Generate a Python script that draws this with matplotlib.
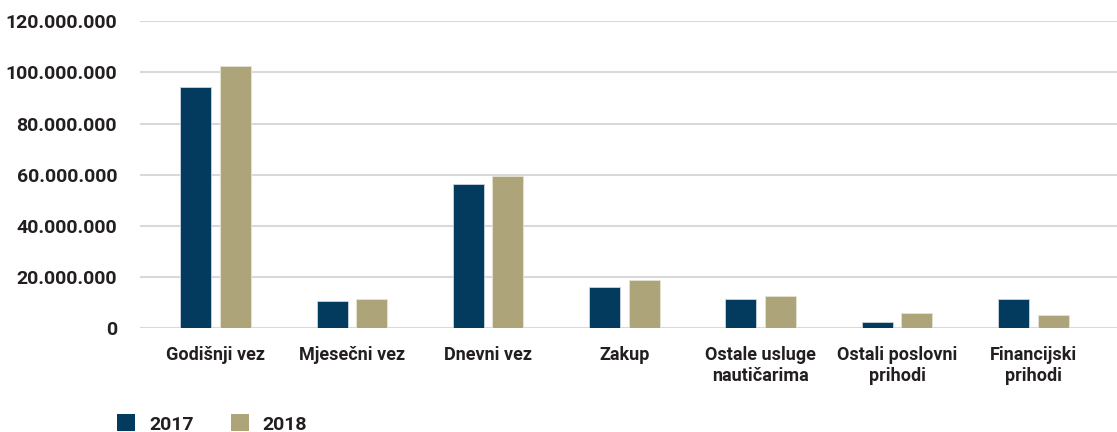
import matplotlib
matplotlib.use("Agg")
import matplotlib.pyplot as plt
import numpy as np
from matplotlib.ticker import FuncFormatter
from matplotlib.patches import Patch

categories = ["Godišnji vez", "Mjesečni vez", "Dnevni vez", "Zakup",
              "Ostale usluge\nnautičarima", "Ostali poslovni\nprihodi", "Financijski\nprihodi"]
values_2017 = [94.2e6, 10.6e6, 56.2e6, 16.0e6, 11.2e6, 2.2e6, 11.2e6]
values_2018 = [102.4e6, 11.2e6, 59.6e6, 18.8e6, 12.7e6, 5.8e6, 5.1e6]
series_labels = ["2017", "2018"]
yticks = [0, 20e6, 40e6, 60e6, 80e6, 100e6, 120e6]

c2017 = "#033B5E"
c2018 = "#AEA479"
txt = "#231F20"

plt.rcParams['font.family'] = ['Roboto', 'DejaVu Sans']

fig = plt.figure(figsize=(11.17, 4.32), dpi=100)
ax = fig.add_axes([140/1117, (432-328)/432, 1 - 140/1117, (328-21.3)/432])

x = np.arange(len(categories))
w = 0.227
off = 0.145
ax.bar(x - off, values_2017, w, color=c2017, edgecolor="#c9d6e0", linewidth=0.6, zorder=3)
ax.bar(x + off, values_2018, w, color=c2018, edgecolor="#e6e2d2", linewidth=0.6, zorder=3)

ax.set_ylim(0, 120e6)
ax.set_xlim(-0.554, 6.614)
ax.set_yticks(yticks)
ax.yaxis.set_major_formatter(FuncFormatter(lambda v, p: f"{int(v):,}".replace(",", ".")))
ax.set_xticks(x)
ax.set_xticklabels(categories, fontsize=13, fontweight="bold", color=txt, linespacing=1.2)
ax.tick_params(axis="y", length=0, pad=16.5, labelsize=14, labelcolor=txt)
ax.tick_params(axis="x", length=0, pad=13)
for lab in ax.get_yticklabels():
    lab.set_fontweight("bold")
ax.grid(axis="y", color="#d9d9d9", linewidth=1.5, zorder=0)
for s in ax.spines.values():
    s.set_visible(False)

handles = [Patch(facecolor=c2017), Patch(facecolor=c2018)]
leg = fig.legend(handles, series_labels, loc="center left",
                 bbox_to_anchor=(117/1117, (432-424)/432), ncol=2, frameon=False,
                 prop={"weight": "bold", "size": 14}, handlelength=0.95, handleheight=0.95,
                 handletextpad=0.7, columnspacing=1.9, borderpad=0, borderaxespad=0)
for t in leg.get_texts():
    t.set_color(txt)

fig.savefig("out.png", dpi=100)
